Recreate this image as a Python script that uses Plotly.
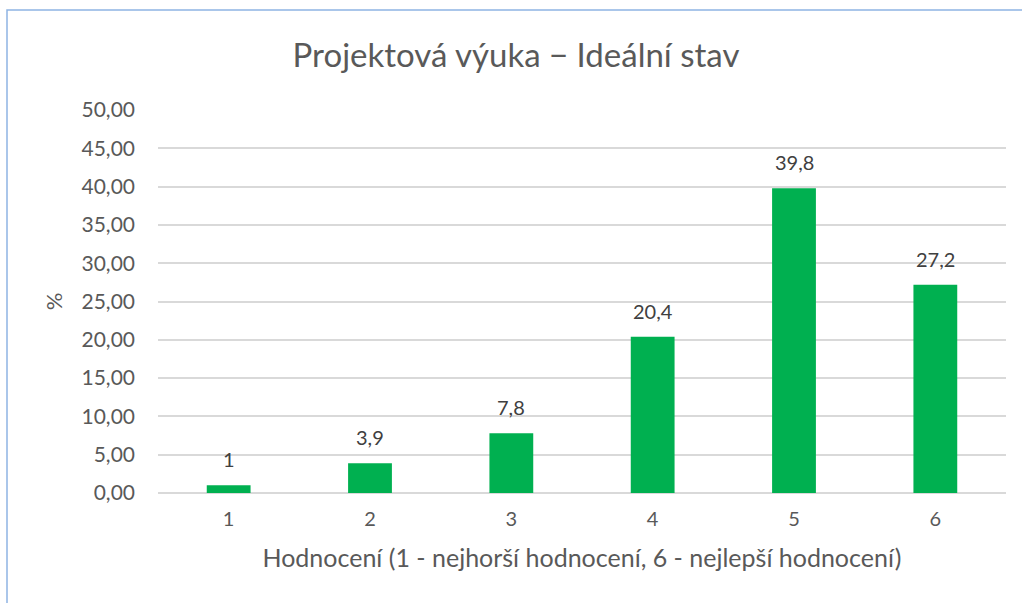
import plotly.graph_objects as go

categories = ["1", "2", "3", "4", "5", "6"]
values = [1, 3.9, 7.8, 20.4, 39.8, 27.2]
labels = ["1", "3,9", "7,8", "20,4", "39,8", "27,2"]

W, H = 1022, 603
L, R, T, B = 158, 16, 110, 110
pw, ph = W - L - R, H - T - B
FONT = "Lato, Open Sans, sans-serif"

fig = go.Figure(go.Bar(
    x=categories, y=values,
    marker=dict(color="#00B050", line=dict(width=0)),
    hoverinfo="skip",
))

# category axis: annotation x given as the category index
for i, (v, t) in enumerate(zip(values, labels)):
    fig.add_annotation(x=i, y=v, text=t, showarrow=False, yanchor="bottom",
                       yshift=12, font=dict(size=20, color="#404040", family=FONT))

fig.update_layout(
    width=W, height=H,
    margin=dict(l=L, r=R, t=T, b=B, autoexpand=False),
    paper_bgcolor="white", plot_bgcolor="white",
    separators=",.",
    font=dict(family=FONT, color="#595959"),
    bargap=0.69,
    showlegend=False,
    title=dict(text="Projektová výuka − Ideální stav", x=516 / W, xanchor="center",
               xref="container",
               y=1 - 55 / H, yanchor="middle",
               font=dict(size=33, color="#595959", family=FONT)),
    xaxis=dict(type="category",
               title=dict(text="Hodnocení (1 - nejhorší hodnocení, 6 - nejlepší hodnocení)",
                          font=dict(size=25, color="#595959", family=FONT), standoff=20),
               tickfont=dict(size=20, color="#595959", family=FONT), showgrid=False,
               showline=False, ticks="", ticklabelstandoff=12),
    yaxis=dict(title=dict(text="%", font=dict(size=22, color="#595959", family=FONT), standoff=12),
               range=[0, 50], dtick=5, tickformat=".2f",
               tickfont=dict(size=21, color="#595959", family=FONT),
               showgrid=True, gridcolor="#D9D9D9", gridwidth=1.5,
               zeroline=True, zerolinecolor="#D9D9D9", zerolinewidth=1.5,
               ticks="", ticklabelstandoff=22),
    shapes=[dict(type="rect", xref="paper", yref="paper",
                 x0=(7 - L) / pw, x1=(W + 20 - L) / pw,
                 y0=-(H + 20 - T - ph) / ph - 0.1, y1=1 + (T - 10) / ph,
                 line=dict(color="#8EB4E3", width=1.5), layer="above")],
)

fig.write_html("out.html", config={"displayModeBar": False},
               post_script="document.body.style.margin='0px';")
